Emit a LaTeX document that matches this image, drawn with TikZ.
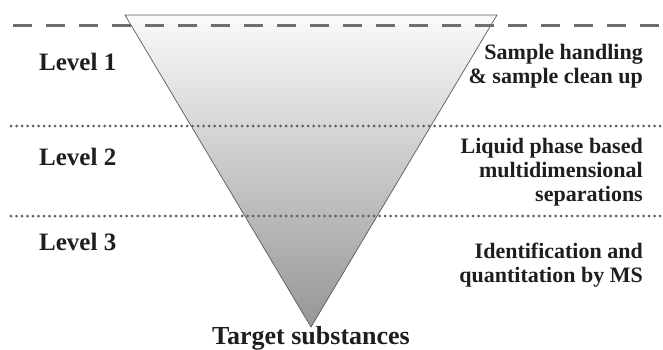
\documentclass[tikz,border=0pt]{standalone}
\usepackage{fontspec}
\setmainfont{Liberation Serif}
\definecolor{txt}{RGB}{30,30,30}
\definecolor{dashgray}{RGB}{110,110,110}
\definecolor{dotgray}{RGB}{95,95,95}
\definecolor{topfill}{RGB}{250,250,250}
\definecolor{botfill}{RGB}{150,150,150}
\definecolor{edge}{RGB}{90,90,90}
\tikzset{
  levellabel/.style={anchor=base west, inner sep=0pt, text=txt, font=\fontsize{25}{28}\selectfont\bfseries},
  desclabel/.style={anchor=base east, inner sep=0pt, text=txt, font=\fontsize{22}{24}\selectfont\bfseries},
  bottomlabel/.style={anchor=base, inner sep=0pt, text=txt, font=\fontsize{26}{28}\selectfont\bfseries},
  dashline/.style={draw=dashgray, line width=3.8pt, dash pattern=on 19pt off 14pt},
  dotline/.style={draw=dotgray, line width=3pt, line cap=round, dash pattern=on 0pt off 5.5pt},
}
\begin{document}
\begin{tikzpicture}[x=1pt, y=-1pt]
\useasboundingbox (0,0) rectangle (663,350);
% funnel
\coordinate (tl) at (125,15);
\coordinate (tr) at (497,15);
\coordinate (apex) at (311,327);
\shade[top color=topfill, bottom color=botfill] (tl) -- (tr) -- (apex) -- cycle;
\draw[edge, line width=0.7pt, line join=miter] (tl) -- (tr) -- (apex) -- cycle;
% separators
\coordinate (d0) at (13,25.5);
\coordinate (d1) at (663,25.5);
\coordinate (p0) at (11,126);
\coordinate (p1) at (661,126);
\coordinate (q0) at (11,216);
\coordinate (q1) at (661,216);
\draw[dashline] (d0) -- (d1);
\draw[dotline] (p0) -- (p1);
\draw[dotline] (q0) -- (q1);
% level labels
\node[levellabel] (l1) at (39,71) {Level 1};
\node[levellabel] (l2) at (39,165) {Level 2};
\node[levellabel] (l3) at (39,250) {Level 3};
% descriptions
\node[desclabel] (s1a) at (643,60) {Sample handling};
\node[desclabel] (s1b) at (643,84) {\& sample clean up};
\node[desclabel] (s2a) at (643,153) {Liquid phase based};
\node[desclabel] (s2b) at (643,177) {multidimensional};
\node[desclabel] (s2c) at (643,201) {separations};
\node[desclabel] (s3a) at (643,258) {Identification and};
\node[desclabel] (s3b) at (643,282) {quantitation by MS};
% bottom
\node[bottomlabel] (tgt) at (311,344) {Target substances};
\end{tikzpicture}
\end{document}
